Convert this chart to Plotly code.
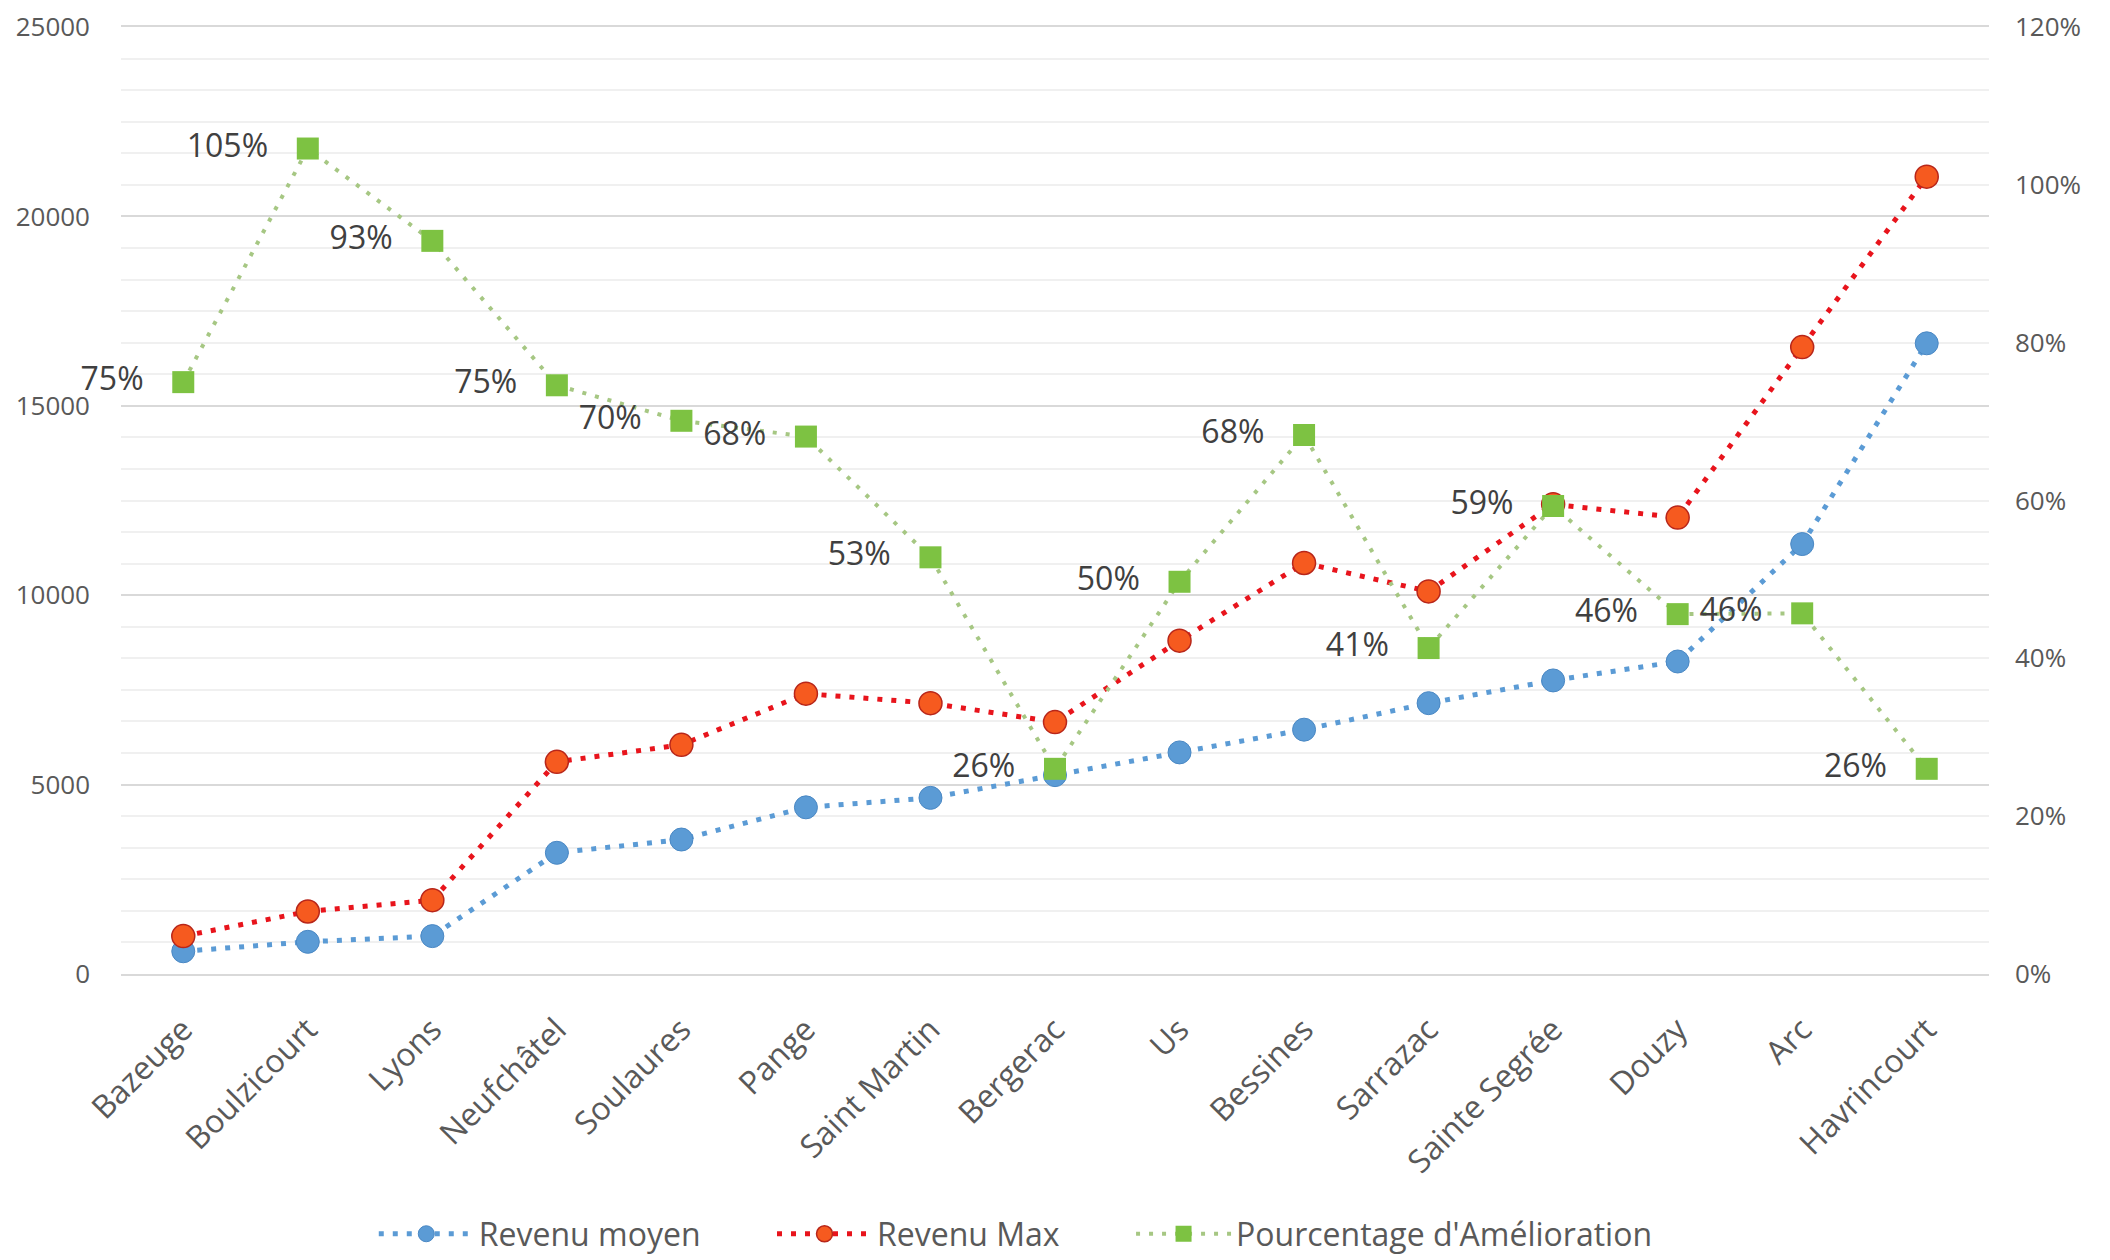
import plotly.graph_objects as go

villes = ["Bazeuge", "Boulzicourt", "Lyons", "Neufchâtel", "Soulaures", "Pange",
          "Saint Martin", "Bergerac", "Us", "Bessines", "Sarrazac", "Sainte Segrée",
          "Douzy", "Arc", "Havrincourt"]
revenu_moyen = [600, 850, 1000, 3200, 3550, 4400, 4650, 5250, 5850, 6450, 7150, 7750, 8250, 11350, 16650]
revenu_max = [1000, 1650, 1950, 5600, 6050, 7400, 7150, 6650, 8800, 10850, 10100, 12400, 12050, 16550, 21050]
pourcentage = [0.75, 1.046, 0.929, 0.746, 0.701, 0.681, 0.528, 0.26, 0.497, 0.683, 0.413, 0.593, 0.456, 0.457, 0.26]

NB = "\u00a0"
labels = [f"{round(p*100):d}%" + NB * 3 for p in pourcentage]

font = "Open Sans"
fig = go.Figure()

fig.add_trace(go.Scatter(
    x=villes, y=revenu_moyen, name="Revenu moyen" + NB * 8, mode="lines+markers",
    line=dict(color="#5B9BD5", width=5, dash="5px,9px"),
    marker=dict(symbol="circle", size=23, color="#5B9BD5", line=dict(color="#4a88c4", width=1)),
))
fig.add_trace(go.Scatter(
    x=villes, y=revenu_max, name="Revenu Max" + NB * 8, mode="lines+markers",
    line=dict(color="#e8141c", width=5, dash="5px,9px"),
    marker=dict(symbol="circle", size=23, color="#f65a1f", line=dict(color="#b8261a", width=1.5)),
))
fig.add_trace(go.Scatter(
    x=villes, y=pourcentage, name="Pourcentage d'Amélioration", mode="lines+markers+text",
    yaxis="y2",
    line=dict(color="#a6c783", width=4, dash="4px,9px"),
    marker=dict(symbol="square", size=22, color="#7dc242", line=dict(width=0)),
    text=labels, textposition="middle left", cliponaxis=False,
    textfont=dict(family=font, size=32, color="#404040"),
))

fig.update_layout(
    width=2102, height=1252,
    margin=dict(l=113, r=121, t=19, b=286, autoexpand=False),
    paper_bgcolor="white", plot_bgcolor="white",
    font=dict(family=font, color="#595959"),
    showlegend=True,
    legend=dict(orientation="h", x=0.479, xanchor="center", y=-0.2745, yanchor="middle",
                font=dict(family=font, size=32, color="#595959"), itemwidth=95),
    xaxis=dict(type="category", range=[-0.5, 14.5], tickangle=-45,
               tickfont=dict(size=32, color="#595959"),
               showgrid=False, showline=True, mirror=True, linecolor="#d9d9d9", linewidth=2,
               ticks="", ticklabelstandoff=22, automargin=False, ticklabeloverflow="allow"),
    yaxis=dict(range=[0, 25000], dtick=5000, tickformat="d", tickfont=dict(size=26, color="#595959"),
               showgrid=True, gridcolor="#d9d9d9", gridwidth=2, zeroline=False,
               ticks="", ticklabelstandoff=30, automargin=False, ticklabeloverflow="allow",
               minor=dict(dtick=25000/30, tick0=0, showgrid=True, gridcolor="#f0f0f0", gridwidth=2)),
    yaxis2=dict(range=[0, 1.2], dtick=0.2, tickformat=".0%", overlaying="y", side="right",
                tickfont=dict(size=26, color="#595959"), showgrid=False, zeroline=False,
                ticks="", ticklabelstandoff=25, automargin=False, ticklabeloverflow="allow"),
)

fig.write_html("out.html")
